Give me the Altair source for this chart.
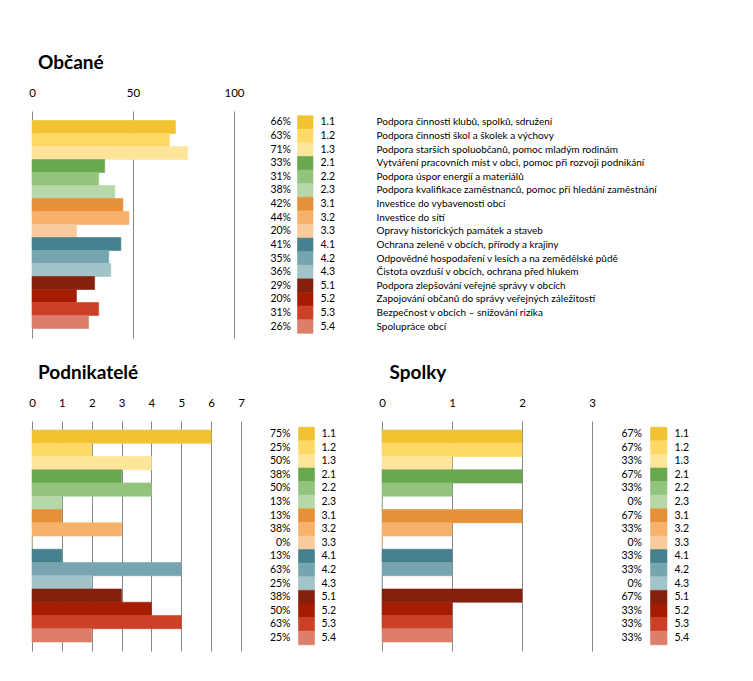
import altair as alt
import pandas as pd

codes = ["1.1", "1.2", "1.3", "2.1", "2.2", "2.3", "3.1", "3.2", "3.3",
         "4.1", "4.2", "4.3", "5.1", "5.2", "5.3", "5.4"]
colors = ["#F1C232", "#FFD966", "#FFE599", "#6AA84F", "#93C47D", "#B6D7A8",
          "#E69138", "#F6B26B", "#F9CB9C", "#45818E", "#76A5AF", "#A2C4C9",
          "#85200C", "#A61C00", "#CC4125", "#DD7E6B"]
descriptions = [
    "Podpora činnosti klubů, spolků, sdružení",
    "Podpora činnosti škol a školek a výchovy",
    "Podpora starších spoluobčanů, pomoc mladým rodinám",
    "Vytváření pracovních míst v obci, pomoc při rozvoji podnikání",
    "Podpora úspor energií a materiálů",
    "Podpora kvalifikace zaměstnanců, pomoc při hledání zaměstnání",
    "Investice do vybavenosti obcí",
    "Investice do sítí",
    "Opravy historických památek a staveb",
    "Ochrana zeleně v obcích, přírody a krajiny",
    "Odpovědné hospodaření v lesích a na zemědělské půdě",
    "Čistota ovzduší v obcích, ochrana před hlukem",
    "Podpora zlepšování veřejné správy v obcích",
    "Zapojování občanů do správy veřejných záležitostí",
    "Bezpečnost v obcích – snižování rizika",
    "Spolupráce obcí",
]

obc_counts = [71, 68, 77, 36, 33, 41, 45, 48, 22, 44, 38, 39, 31, 22, 33, 28]
obc_pct = ["66%", "63%", "71%", "33%", "31%", "38%", "42%", "44%", "20%",
           "41%", "35%", "36%", "29%", "20%", "31%", "26%"]
pod_counts = [6, 2, 4, 3, 4, 1, 1, 3, 0, 1, 5, 2, 3, 4, 5, 2]
pod_pct = ["75%", "25%", "50%", "38%", "50%", "13%", "13%", "38%", "0%",
           "13%", "63%", "25%", "38%", "50%", "63%", "25%"]
spo_counts = [2, 2, 1, 2, 1, 0, 2, 1, 0, 1, 1, 0, 2, 1, 1, 1]
spo_pct = ["67%", "67%", "33%", "67%", "33%", "0%", "67%", "33%", "0%",
           "33%", "33%", "0%", "67%", "33%", "33%", "33%"]

FONT = "Lato"
color_scale = alt.Scale(domain=codes, range=colors)


def panel(title, counts, pct, xmax, ticks, width, height, bar_po, leg_po,
          pct_x, sw_x, code_x, title_dx, desc_x=None):
    df = pd.DataFrame({"code": codes, "count": counts, "pct": pct,
                       "desc": descriptions})
    base = alt.Chart(df)
    y_bar = alt.Y("code:N", sort=codes, axis=None,
                  scale=alt.Scale(type="band", paddingInner=0,
                                  paddingOuter=bar_po))
    y_leg = alt.Y("code:N", sort=codes, axis=None,
                  scale=alt.Scale(type="band", paddingInner=0,
                                  paddingOuter=leg_po))
    col = alt.Color("code:N", scale=color_scale, legend=None)
    strk = alt.Stroke("code:N", scale=color_scale, legend=None)
    bars = base.mark_bar(strokeWidth=0.6).encode(
        x=alt.X("count:Q", scale=alt.Scale(domain=[0, xmax], nice=False),
                axis=alt.Axis(orient="top", values=ticks, title=None,
                              grid=True, gridColor="#888888", gridWidth=1,
                              ticks=False, domain=False, labelPadding=13,
                              labelFlush=False, labelOverlap=False,
                              labelFont=FONT, labelFontSize=11.5,
                              labelColor="#000000")),
        y=y_bar, color=col, stroke=strk)
    sw = base.mark_rect(strokeWidth=0.6).encode(
        x=alt.value(sw_x[0]), x2=alt.value(sw_x[1]),
        y=y_leg, color=col, stroke=strk)
    ptxt = base.mark_text(align="right", baseline="middle", font=FONT,
                          fontSize=10.5, color="#000000").encode(
        x=alt.value(pct_x), y=y_leg, text="pct:N")
    ctxt = base.mark_text(align="left", baseline="middle", font=FONT,
                          fontSize=10.5, color="#000000").encode(
        x=alt.value(code_x), y=y_leg, text="code:N")
    layers = [bars, sw, ptxt, ctxt]
    if desc_x is not None:
        dtxt = base.mark_text(align="left", baseline="middle", font=FONT,
                              fontSize=10, color="#000000").encode(
            x=alt.value(desc_x), y=y_leg, text="desc:N")
        layers.append(dtxt)
    return alt.layer(*layers).resolve_scale(y="independent").properties(
        width=width, height=height,
        title=alt.TitleParams(title, anchor="start", frame="group",
                              dx=title_dx, offset=14, font=FONT,
                              fontSize=19, fontWeight="bold",
                              color="#000000"))


obc = panel("Občané", obc_counts, obc_pct, 100, [0, 50, 100], 202, 227,
            0.73, 0.345, 259, (265.5, 281), 288.5, 6, desc_x=344.5)
pod = panel("Podnikatelé", pod_counts, pod_pct, 7, list(range(8)), 209, 230,
            0.68, 0.456, 258.5, (266.5, 282.5), 289.5, 6)
spo = panel("Spolky", spo_counts, spo_pct, 3, [0, 1, 2, 3], 210, 230,
            0.68, 0.456, 260, (268.5, 285), 292.5, 7.5)

chart = alt.vconcat(
    obc,
    alt.hconcat(pod, spo, spacing=141, bounds="flush"),
    spacing=83, bounds="flush",
).properties(
    padding={"left": 20, "top": 46, "right": 5, "bottom": 5}
).configure_view(stroke=None)

chart.save("out.html", embed_options={"renderer": "svg", "actions": False})
